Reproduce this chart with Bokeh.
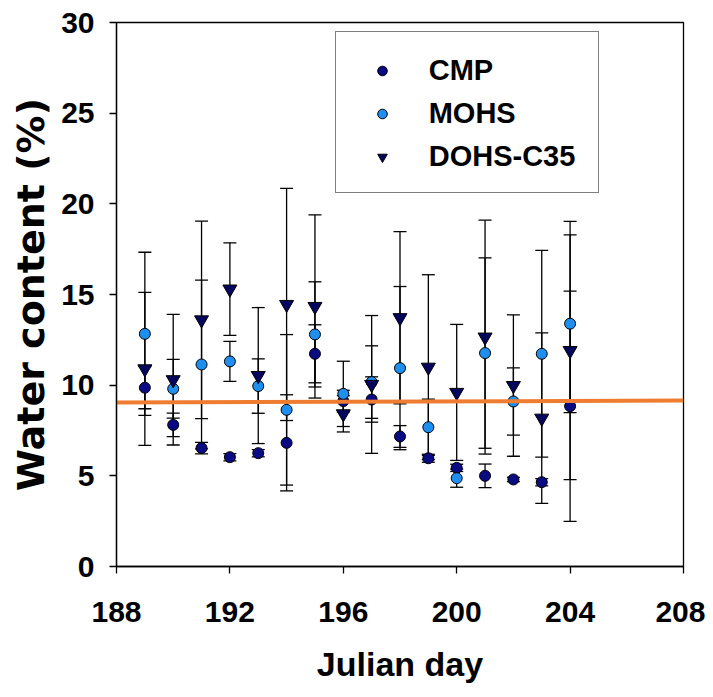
from bokeh.plotting import figure
from bokeh.models import (ColumnDataSource, Whisker, TeeHead, Legend, LegendItem,
                          FixedTicker, Range1d)
from bokeh.embed import file_html
from bokeh.resources import INLINE

# ---- data ----
days = [189, 190, 191, 192, 193, 194, 195, 196, 197, 198, 199, 200, 201, 202, 203, 204]

cmp_mean = [9.86, 7.81, 6.53, 6.03, 6.25, 6.82, 11.73, 9.12, 9.21, 7.17, 5.97, 5.44, 5.00, 4.80, 4.65, 8.84]
cmp_err = [1.16, 0.65, 0.32, 0.20, 0.20, 2.65, 1.60, 0.60, 1.25, 0.60, 0.22, 0.20, 0.65, 0.12, 0.20, 6.35]

mohs_mean = [12.83, 9.80, 11.14, 11.31, 9.95, 8.64, 12.80, 9.52, 10.17, 10.94, 7.68, 4.87, 11.77, 9.10, 11.73, 13.39]
mohs_err = [4.50, 1.62, 4.65, 1.10, 1.50, 4.15, 2.90, 1.80, 2.00, 4.50, 1.55, 0.50, 5.25, 1.85, 5.70, 4.90]

dohs_mean = [10.90, 10.30, 13.60, 15.30, 10.53, 14.45, 14.34, 8.42, 10.04, 13.72, 10.99, 9.60, 12.65, 9.98, 8.18, 11.91]
dohs_err = [4.22, 3.60, 5.45, 2.55, 3.75, 6.40, 5.05, 1.00, 3.80, 4.75, 5.10, 3.75, 6.45, 3.90, 4.70, 7.12]

trend_x = [188, 208]
trend_y = [9.05, 9.15]

x_ticks = [188, 192, 196, 200, 204, 208]
y_ticks = [0, 5, 10, 15, 20, 25, 30]

FONT = "Liberation Sans"

p = figure(width=705, height=697, x_range=Range1d(188, 208), y_range=Range1d(0, 30),
           output_backend="svg", toolbar_location=None,
           min_border_left=116, min_border_right=22, min_border_top=22, min_border_bottom=131)
p.background_fill_color = "white"
p.border_fill_color = "white"
p.grid.visible = False
p.outline_line_color = "black"
p.outline_line_width = 1.3

for ax in (p.xaxis, p.yaxis):
    ax.axis_line_color = "black"
    ax.axis_line_width = 1.3
    ax.major_tick_line_color = "black"
    ax.major_tick_line_width = 1.3
    ax.major_tick_in = 0
    ax.major_tick_out = 7
    ax.minor_tick_line_color = None
    ax.major_label_text_font = FONT
    ax.major_label_text_font_style = "bold"
    ax.major_label_text_font_size = "30px"
    ax.major_label_text_color = "black"
    ax.axis_label_text_font_style = "bold"
    ax.axis_label_text_color = "black"

p.xaxis.ticker = FixedTicker(ticks=x_ticks)
p.yaxis.ticker = FixedTicker(ticks=y_ticks)
p.xaxis.axis_label = "Julian day"
p.yaxis.axis_label = "Water content (%)"
p.xaxis.axis_label_text_font = FONT
p.yaxis.axis_label_text_font = "DejaVu Sans"
p.xaxis.axis_label_text_font_size = "34px"
p.yaxis.axis_label_text_font_size = "38px"
p.xaxis.major_label_standoff = 28
p.yaxis.major_label_standoff = 15
p.xaxis.axis_label_standoff = 20
p.yaxis.axis_label_standoff = 5

series = [
    ("CMP", cmp_mean, cmp_err, "circle", "#0a0a82", 11),
    ("MOHS", mohs_mean, mohs_err, "circle", "#1e8fef", 11),
    ("DOHS-C35", dohs_mean, dohs_err, "inverted_triangle", "#05055e", 14),
]

renderers = {}
for name, mean, err, marker, color, size in series:
    src = ColumnDataSource(data=dict(
        x=days, y=mean,
        lo=[m - e for m, e in zip(mean, err)],
        hi=[m + e for m, e in zip(mean, err)],
    ))
    wh = Whisker(source=src, base="x", upper="hi", lower="lo", dimension="height",
                 line_color="black", line_width=1.3,
                 upper_head=TeeHead(size=13, line_color="black", line_width=1.3),
                 lower_head=TeeHead(size=13, line_color="black", line_width=1.3))
    p.add_layout(wh)
    r = p.scatter("x", "y", source=src, marker=marker, size=size,
                  fill_color=color, line_color="black", line_width=1)
    renderers[name] = r

p.line(trend_x, trend_y, line_color="#ee7d31", line_width=4)

# legend frame (drawn as an empty legend box)
dummy = p.scatter(x=[], y=[], fill_color=None, line_color=None, visible=False)
frame_leg = Legend(items=[LegendItem(label=" ", renderers=[dummy])],
                   location=(219, 373), padding=0, margin=0, spacing=0,
                   glyph_width=262, glyph_height=160, label_width=0, label_height=0,
                   label_standoff=0, label_text_font_size="1px",
                   border_line_color="black", border_line_width=1.3,
                   background_fill_color="white", background_fill_alpha=1)
p.add_layout(frame_leg, "center")

leg = Legend(items=[LegendItem(label=n, renderers=[renderers[n]]) for n in ["CMP", "MOHS", "DOHS-C35"]],
             location=(219.7, 354.5), padding=34, margin=0, spacing=0,
             glyph_width=24, glyph_height=43, label_height=43, label_standoff=35,
             label_text_font=FONT, label_text_font_style="bold", label_text_font_size="29px",
             label_text_color="black",
             border_line_alpha=0, background_fill_alpha=0)
p.add_layout(leg, "center")

open("out.html", "w").write(file_html(p, INLINE))
